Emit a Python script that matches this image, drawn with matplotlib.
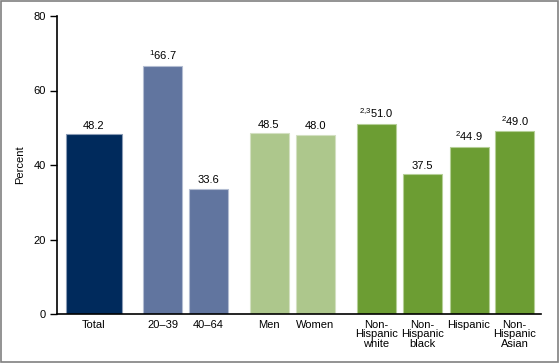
import matplotlib
matplotlib.use("Agg")
import matplotlib.pyplot as plt
from matplotlib.patches import Rectangle

plt.rcParams['font.family'] = ['Liberation Sans', 'DejaVu Sans']
plt.rcParams['mathtext.fontset'] = 'custom'
plt.rcParams['mathtext.rm'] = 'Liberation Sans'
plt.rcParams['mathtext.it'] = 'Liberation Sans'

categories = ["Total", "20–39", "40–64", "Men", "Women",
              "Non-\nHispanic\nwhite", "Non-\nHispanic\nblack", "Hispanic",
              "Non-\nHispanic\nAsian"]
values = [48.2, 66.7, 33.6, 48.5, 48.0, 51.0, 37.5, 44.9, 49.0]
notes = ["", "1", "", "", "", "2{,}3", "", "2", "2"]
groups = ["total", "age", "age", "sex", "sex", "race", "race", "race", "race"]
yticks = [0, 20, 40, 60, 80]

colors = {"total": "#002a5c", "age": "#61759f", "sex": "#adc78c", "race": "#6c9d33"}
edges = {"total": "#8a9bb5", "age": "#b3bdd2", "sex": "#d3e0c2", "race": "#b5cf97"}

# layout (pixel-based positions along the axis)
positions = [37, 105.5, 151.5, 212, 258.5, 319.5, 365.5, 412, 457.5]
widths = [56, 39, 39, 39, 39, 39, 39, 39, 39]

FS = 8.0

fig = plt.figure(figsize=(5.6, 3.63), dpi=100)
fig.patches.append(Rectangle((0.002, 0.003), 0.995, 0.993, transform=fig.transFigure,
                             fill=False, edgecolor="#808080", linewidth=1.2))
ax = fig.add_axes([57/560, 1 - 314/363, 484/560, 298/363])

for x, w, v, g in zip(positions, widths, values, groups):
    ax.bar(x, v, width=w, color=colors[g], edgecolor=edges[g], linewidth=0.8)

for x, v, n in zip(positions, values, notes):
    lab = f"{v:.1f}"
    if n:
        lab = r"$^{\mathregular{" + n + "}}$" + lab
    ax.text(x, v + 1.0, lab, ha="center", va="bottom", fontsize=FS, color="black")

ax.set_xlim(0, 484)
ax.set_ylim(0, 80)
ax.set_yticks(yticks)
ax.set_yticklabels([str(t) for t in yticks], fontsize=FS)
ax.set_xticks(positions)
ax.set_xticklabels(categories, fontsize=FS, linespacing=0.95)
ax.tick_params(axis="x", length=0, pad=4)
ax.tick_params(axis="y", length=5, width=1, direction="out", pad=3)
for s in ["top", "right"]:
    ax.spines[s].set_visible(False)
ax.spines["left"].set_linewidth(1.2)
ax.spines["bottom"].set_linewidth(1.2)
ax.set_ylabel("Percent", fontsize=FS)
ax.yaxis.set_label_coords(-32/484, 0.5)

fig.savefig("out.png", dpi=100)
